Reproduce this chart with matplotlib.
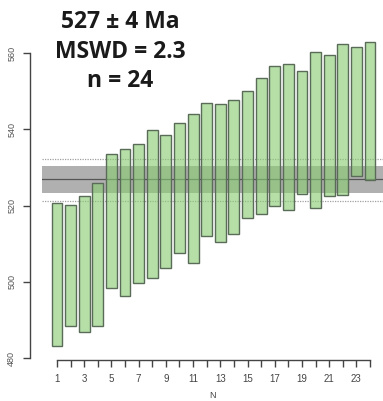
import numpy as np
import matplotlib
matplotlib.use("Agg")
import matplotlib.pyplot as plt

# analysis number and age ranges (Ma)
n_idx = list(range(1, 25))
age_lo = [483.2, 488.5, 486.9, 488.5, 498.3, 496.3, 499.7, 500.9, 503.7, 507.5, 504.9, 512.0,
          510.5, 512.6, 516.7, 517.8, 519.9, 518.7, 523.0, 519.4, 522.6, 522.8, 527.8, 526.7]
age_hi = [520.6, 520.2, 522.6, 526.0, 533.5, 534.8, 536.2, 539.8, 538.6, 541.7, 544.1, 546.8,
          546.6, 547.7, 550.1, 553.4, 556.6, 557.0, 555.3, 560.3, 559.5, 562.4, 561.6, 563.0]

mean_age = 527.0
mean_err = (523.2, 530.4)
mswd_err = (521.3, 532.1)
y_ticks = [480, 500, 520, 540, 560]
x_ticks = list(range(1, 25))
x_labels = [str(i) if i % 2 == 1 else "" for i in x_ticks]
title_lines = ["527 \u00b1 4 Ma", "MSWD = 2.3", "n = 24"]

W, H = 383, 401
fig = plt.figure(figsize=(W / 100, H / 100), dpi=100)
ax = fig.add_axes([42 / W, (H - 360) / H, 341 / W, 360 / H])
ax.set_xlim(-0.1, 24.955)
ax.set_ylim(479.48, 573.9)

# weighted mean band + dotted MSWD-inflated limits
ax.axhspan(mean_err[0], mean_err[1], color="#b0b0b0", lw=0, zorder=1)
ax.axhline(mean_age, color="#555555", lw=0.9, zorder=2)
for v in mswd_err:
    ax.axhline(v, color="#a0a0a0", lw=0.9, ls=(0, (1, 1)), zorder=2)

lo = np.array(age_lo)
hi = np.array(age_hi)
ax.bar(n_idx, hi - lo, bottom=lo, width=0.8, color="#88cc72", alpha=0.62,
       edgecolor="none", zorder=3)
ax.bar(n_idx, hi - lo, bottom=lo, width=0.8, facecolor="none",
       edgecolor="#5a6b58", lw=1.0, zorder=4)

for s in ["top", "right"]:
    ax.spines[s].set_visible(False)
ax.spines["left"].set_position(("outward", 8.6))
ax.spines["left"].set_bounds(480, 560)
ax.spines["bottom"].set_bounds(1, 24)
for s in ["left", "bottom"]:
    ax.spines[s].set_color("#444444")
    ax.spines[s].set_linewidth(1.0)

ax.set_yticks(y_ticks)
ax.set_yticklabels([str(v) for v in y_ticks], rotation=90, va="center",
                   fontsize=6.5, color="#555555", family="Liberation Sans")
ax.set_xticks(x_ticks)
ax.set_xticklabels(x_labels, fontsize=7, color="#444444", family="Liberation Sans")
ax.tick_params(axis="both", length=5, width=1.0, color="#444444", pad=5)
ax.set_xlabel("N", fontsize=6.5, color="#444444", family="Liberation Sans", labelpad=5)

for i, t in enumerate(title_lines):
    fig.text(120 / W, 1 - (22 + 29.5 * i) / H, t, ha="center", va="center",
             fontsize=16.5, fontweight="bold", family="Open Sans", color="#1a1a1a")

fig.savefig("out.png", dpi=100)
